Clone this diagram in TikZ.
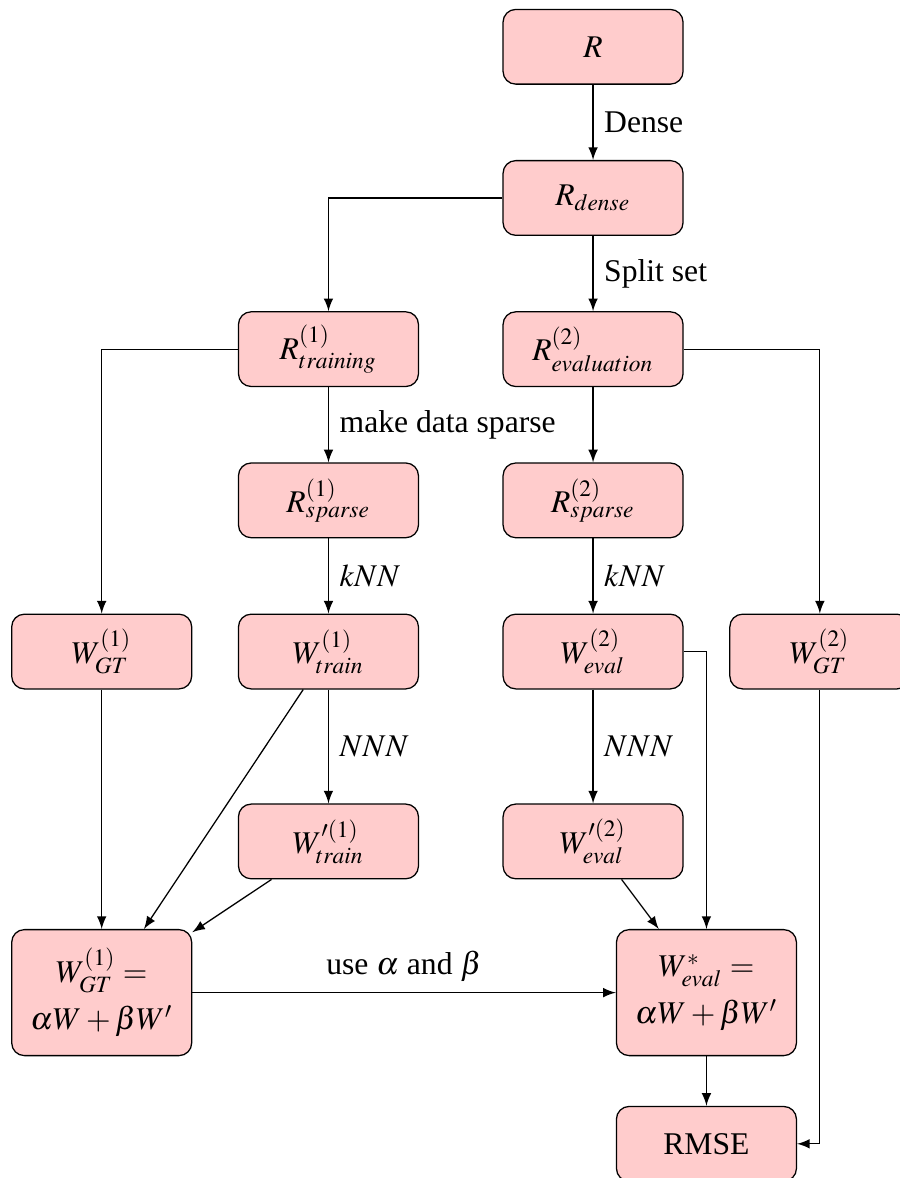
\documentclass[tikz,border=0pt]{standalone}
\usepackage{mathptmx}
\usepackage{fontspec}
\setmainfont{Liberation Serif}
\usetikzlibrary{positioning}

\begin{document}
\begin{tikzpicture}[node distance=1.68cm,on grid,auto,>=latex,
    block/.style={draw,rounded corners,fill=red!20,minimum width=2cm,minimum height=0.83cm},
    hv/.style={to path={-| (\tikztotarget) \tikztonodes}},
    vh/.style={to path={|- (\tikztotarget) \tikztonodes}}]
   \useasboundingbox (0,0) rectangle (9.99,-13.09);
   \node[block] (R) at (6.59,-0.52) {$R$};
   \node[block] (Rd)   [below=of R]          {$R_{dense}$};
   \node[block] (Rev)  [below=of Rd]         {$R^{(2)}_{evaluation}$};
   \node[block] (Rtr)  [left=2.94cm of Rev]  {$R^{(1)}_{training}$};
   \node[block] (Rspa) [below=of Rtr]        {$R^{(1)}_{sparse}$};
   \node[block] (Rspb) [below=of Rev]        {$R^{(2)}_{sparse}$};
   \node[block] (Wtr)  [below=of Rspa]       {$W^{(1)}_{train}$};
   \node[block] (Wev)  [below=of Rspb]       {$W^{(2)}_{eval}$};
   \node[block] (WGTa) [left=2.52cm of Wtr]  {$W^{(1)}_{GT}$};
   \node[block] (WGTb) [right=2.52cm of Wev] {$W^{(2)}_{GT}$};
   \node[block] (Wtrp) [below=2.11cm of Wtr] {$W'^{(1)}_{train}$};
   \node[block] (Wevp) [below=2.11cm of Wev] {$W'^{(2)}_{eval}$};
   \node[block,minimum height=1.4cm,align=center] (Wa) [below=3.79cm of WGTa]
        {$W^{(1)}_{GT} =$\\[3pt]$\alpha W + \beta W'$};
   \node[block,minimum height=1.4cm,align=center] (Wb) [right=6.72cm of Wa]
        {$W^{*}_{eval} =$\\[3pt]$\alpha W + \beta W'$};
   \node[block] (RMSE) [below=of Wb]         {RMSE};
   \path[->]
    (R)    edge                 node {Dense} (Rd)
    (Rd)   edge [hv]            (Rtr)
           edge                 node {Split set} (Rev)
    (Rtr)  edge [hv]            (WGTa)
           edge                 node {make data sparse} (Rspa)
    (Rev)  edge                 (Rspb)
           edge [hv]            (WGTb)
    (Rspa) edge                 node {$kNN$} (Wtr)
    (Rspb) edge                 node {$kNN$} (Wev)
    (Wtr)  edge                 node {$NNN$} (Wtrp)
           edge                 (Wa)
    (Wev)  edge                 node {$NNN$} (Wevp)
           edge [hv]            (Wb)
    (WGTa) edge                 (Wa)
    (Wtrp) edge                 (Wa)
    (Wevp) edge                 (Wb)
    (Wa)   edge                 node {use $\alpha$ and $\beta$} (Wb)
    (Wb)   edge                 (RMSE)
    (WGTb) edge [vh]            (RMSE)
    ;
\end{tikzpicture}
\end{document}
